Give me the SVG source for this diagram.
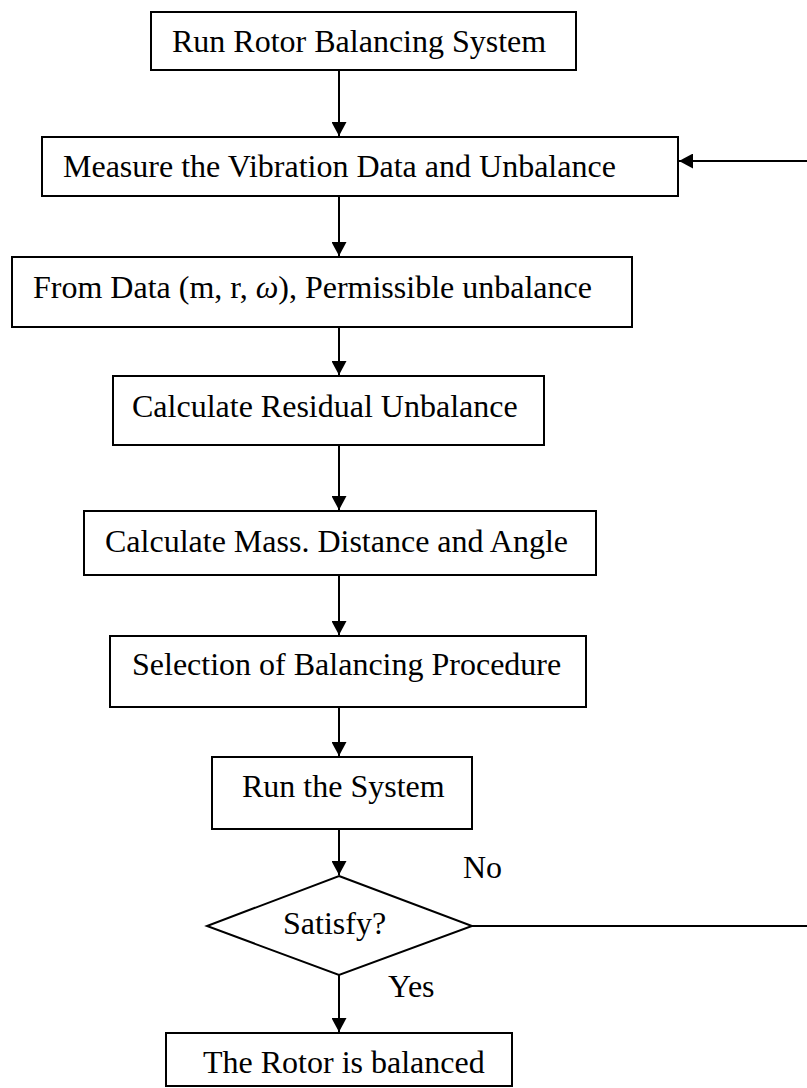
<svg xmlns="http://www.w3.org/2000/svg" width="807" height="1088" viewBox="0 0 807 1088">
<style>
.box{fill:#fff;stroke:#000;stroke-width:2}
.t{font-family:"Liberation Serif","Times New Roman",serif;font-size:32px;fill:#000}
.c{fill:none;stroke:#000;stroke-width:2}
</style>
<defs>
<marker id="ah" markerWidth="15" markerHeight="15" refX="14" refY="7.5" orient="auto" markerUnits="userSpaceOnUse">
<path d="M0,0 L14,7.5 L0,15 Z" fill="#000"/>
</marker>
</defs>
<rect width="807" height="1088" fill="#fff"/>
<g id="connectors">
<line class="c" x1="339" y1="70" x2="339" y2="136" marker-end="url(#ah)"/>
<line class="c" x1="339" y1="196" x2="339" y2="256" marker-end="url(#ah)"/>
<line class="c" x1="339" y1="327" x2="339" y2="375" marker-end="url(#ah)"/>
<line class="c" x1="339" y1="445" x2="339" y2="510" marker-end="url(#ah)"/>
<line class="c" x1="339" y1="575" x2="339" y2="635" marker-end="url(#ah)"/>
<line class="c" x1="339" y1="707" x2="339" y2="756" marker-end="url(#ah)"/>
<line class="c" x1="339" y1="829" x2="339" y2="875" marker-end="url(#ah)"/>
<line class="c" x1="339" y1="975" x2="339" y2="1032" marker-end="url(#ah)"/>
<line class="c" x1="472" y1="926" x2="807" y2="926"/>
<line class="c" x1="807" y1="161" x2="679" y2="161" marker-end="url(#ah)"/>
</g>
<g id="n1"><rect class="box" x="151" y="12" width="425" height="58"/><text class="t" x="172" y="52">Run Rotor Balancing System</text></g>
<g id="n2"><rect class="box" x="42" y="137" width="636" height="59"/><text class="t" x="63" y="177">Measure the Vibration Data and Unbalance</text></g>
<g id="n3"><rect class="box" x="12" y="257" width="620" height="70"/><text class="t" x="33" y="298">From Data (m, r, <tspan font-style="italic">ω</tspan>), Permissible unbalance</text></g>
<g id="n4"><rect class="box" x="113" y="376" width="431" height="69"/><text class="t" x="132" y="417">Calculate Residual Unbalance</text></g>
<g id="n5"><rect class="box" x="84" y="511" width="512" height="64"/><text class="t" x="105" y="552">Calculate Mass. Distance and Angle</text></g>
<g id="n6"><rect class="box" x="110" y="636" width="476" height="71"/><text class="t" x="132" y="675">Selection of Balancing Procedure</text></g>
<g id="n7"><rect class="box" x="212" y="757" width="260" height="72"/><text class="t" x="242" y="797">Run the System</text></g>
<g id="n8"><polygon class="box" points="339,876 472,926 339,975 207,926"/><text class="t" x="283" y="934">Satisfy?</text></g>
<g id="n9"><rect class="box" x="166" y="1033" width="346" height="53"/><text class="t" x="203" y="1073">The Rotor is balanced</text></g>
<g id="labels"><text class="t" x="463" y="878">No</text><text class="t" x="388" y="997">Yes</text></g>
</svg>
